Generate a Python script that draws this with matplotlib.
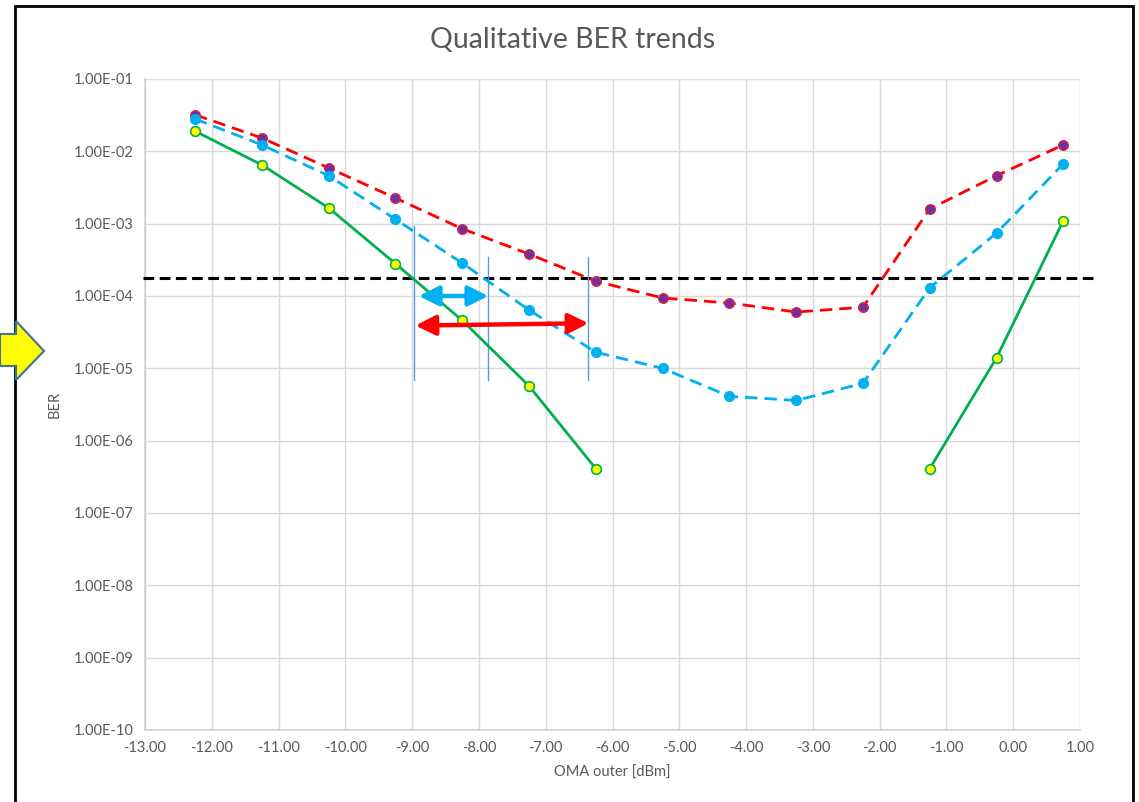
import matplotlib.pyplot as plt
import numpy as np
from matplotlib.patches import Polygon, Rectangle

plt.rcParams['font.family'] = ['Lato', 'DejaVu Sans']

# OMA outer [dBm]
oma = [-12.25, -11.25, -10.25, -9.25, -8.25, -7.25, -6.25,
       -5.25, -4.25, -3.25, -2.25, -1.25, -0.25, 0.75]

ber_red = [3.2e-2, 1.53e-2, 5.9e-3, 2.26e-3, 8.5e-4, 3.8e-4, 1.6e-4,
           9.4e-5, 8.0e-5, 6.0e-5, 7.0e-5, 1.6e-3, 4.6e-3, 1.23e-2]
ber_blue = [2.8e-2, 1.23e-2, 4.6e-3, 1.15e-3, 2.85e-4, 6.4e-5, 1.67e-5,
            1.0e-5, 4.1e-6, 3.6e-6, 6.2e-6, 1.3e-4, 7.4e-4, 6.7e-3]
# green has no points between -6.25 and -1.25
ber_green = [1.9e-2, 6.5e-3, 1.65e-3, 2.8e-4, 4.6e-5, 5.7e-6, 4.1e-7,
             np.nan, np.nan, np.nan, np.nan, 4.1e-7, 1.4e-5, 1.1e-3]

threshold = 1.8e-4
vlines_x = [-8.97, -7.86, -6.36]
vlines_top = [9.3e-4, 3.5e-4, 3.5e-4]
vline_bottom = 7e-6

xticks = np.arange(-13, 1.01, 1)
yticks = [10.0 ** -k for k in range(10, 0, -1)]
ytick_labels = ['1.00E-%02d' % k for k in range(10, 0, -1)]

grey = '#595959'

fig = plt.figure(figsize=(11.39, 8.02), dpi=100)
ax = fig.add_axes([145 / 1139, 1 - 730 / 802, 935 / 1139, 651 / 802])

ax.plot(oma, ber_red, color='#FF0000', lw=2, ls=(0, (4.5, 2.5)),
        marker='o', ms=7, mfc='#7030A0', mec='#E8203A', mew=0.9, zorder=4)
ax.plot(oma, ber_blue, color='#00B0F0', lw=2, ls=(0, (4.5, 2.5)),
        marker='o', ms=7, mfc='#00B0F0', mec='#00B0F0', zorder=4)
ax.plot(oma, ber_green, color='#00B050', lw=2, ls='-',
        marker='o', ms=7, mfc='#FFFF00', mec='#00B050', mew=1.2, zorder=5)

# threshold line runs a bit past the plot area
ax.plot([-13.03, 1.22], [threshold, threshold], color='black', lw=2.2,
        ls=(0, (3.5, 1.8)), clip_on=False, zorder=3)

for xv, top in zip(vlines_x, vlines_top):
    ax.plot([xv, xv], [vline_bottom, top], color='#5B9BD5', lw=1, zorder=3)

ax.annotate('', xy=(-8.9, 1.0e-4), xytext=(-7.86, 1.0e-4),
            arrowprops=dict(arrowstyle='<|-|>', color='#00B0F0', lw=3.2,
                            mutation_scale=30, shrinkA=0, shrinkB=0), zorder=6)
ax.annotate('', xy=(-8.95, 3.9e-5), xytext=(-6.36, 4.2e-5),
            arrowprops=dict(arrowstyle='<|-|>', color='#FF0000', lw=3.2,
                            mutation_scale=30, shrinkA=0, shrinkB=0), zorder=6)

ax.set_yscale('log')
ax.set_xlim(-13, 1)
ax.set_ylim(1e-10, 1e-1)
ax.set_xticks(xticks)
ax.set_xticklabels(['%.2f' % v for v in xticks])
ax.set_yticks(yticks)
ax.set_yticklabels(ytick_labels)
ax.yaxis.set_minor_locator(plt.NullLocator())
ax.tick_params(length=0, labelsize=10.5, colors=grey, pad=8)
ax.grid(True, color='#D9D9D9', lw=1)
ax.set_axisbelow(True)
for s in ['top', 'right']:
    ax.spines[s].set_visible(False)
for s in ['left', 'bottom']:
    ax.spines[s].set_color('#D0D0D0')
    ax.spines[s].set_linewidth(1.2)

ax.set_xlabel('OMA outer [dBm]', fontsize=10.5, color=grey, labelpad=8)
ax.set_ylabel('BER', fontsize=10.5, color=grey, labelpad=9)
fig.text(573 / 1139, 1 - 40 / 802, 'Qualitative BER trends', fontsize=20.5,
         color=grey, ha='center', va='center')

# outer chart frame
fig.patches.append(Rectangle((15 / 1139, -0.01), (1133 - 15) / 1139, 1.01 - 6 / 802,
                             transform=fig.transFigure, fill=False,
                             edgecolor='black', lw=2, zorder=1))

# yellow block arrow on the left
arrow_px = [(0, 334), (16, 334), (16, 321), (44, 351), (16, 380), (16, 366), (0, 366)]
arrow_pts = [(x / 1139, 1 - y / 802) for x, y in arrow_px]
fig.patches.append(Polygon(arrow_pts, closed=True, transform=fig.transFigure,
                           facecolor='#FFFF00', edgecolor='#41719C', lw=1.5, zorder=2))

fig.savefig('out.png', dpi=100)
